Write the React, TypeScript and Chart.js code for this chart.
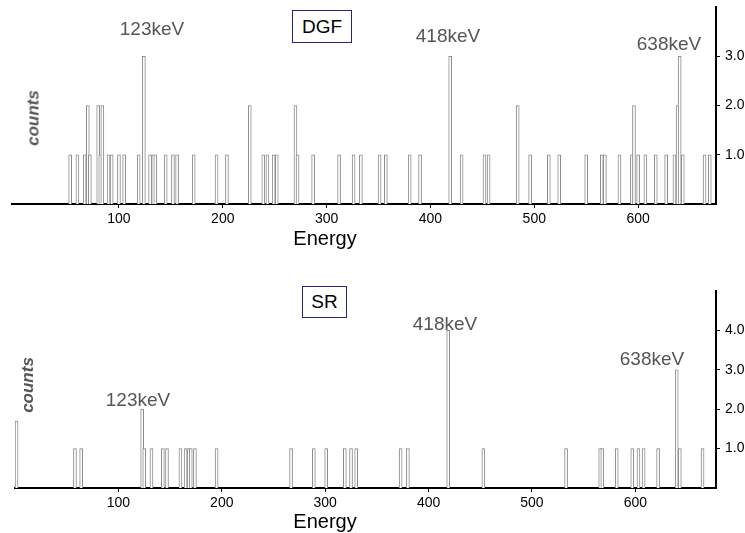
import React, { useEffect, useRef } from 'react';
import { Chart, registerables } from 'chart.js';

Chart.register(...registerables);
Chart.defaults.font.family = '"Liberation Sans", Arial, sans-serif';

// ---- DATA ----
const dgfEnergy = [53, 60, 67, 70, 72, 80, 82, 84, 90, 93, 100, 105, 119, 124, 130, 133, 135, 145, 152, 156, 172, 194, 204, 226, 239, 243, 249, 252, 270, 272, 287, 312, 326, 333, 351, 357, 380, 390, 419, 430, 452, 456, 484, 496, 514, 524, 550, 565, 568, 582, 594, 596, 600, 607, 617, 627, 635, 638, 640, 643, 664, 669];
const dgfCounts = [1, 1, 1, 2, 1, 2, 1, 2, 1, 1, 1, 1, 1, 3, 1, 1, 1, 1, 1, 1, 1, 1, 1, 2, 1, 1, 1, 1, 2, 1, 1, 1, 1, 1, 1, 1, 1, 1, 3, 1, 1, 1, 2, 1, 1, 1, 1, 1, 1, 1, 1, 2, 1, 1, 1, 1, 1, 2, 3, 1, 1, 1];

const srEnergy = [1.5, 58, 64, 123, 125, 132, 143, 147, 160, 165, 168, 170, 174, 195, 267, 289, 301, 319, 325, 330, 373, 380, 419, 453, 533, 566, 568, 582, 597, 603, 608, 622, 640, 643, 665];
const srCounts = [1.7, 1, 1, 2, 1, 1, 1, 1, 1, 1, 1, 1, 1, 1, 1, 1, 1, 1, 1, 1, 1, 1, 4, 1, 1, 1, 1, 1, 1, 1, 1, 1, 3, 1, 1];

const energyTicks = [100, 200, 300, 400, 500, 600];
const dgfCountTicks = [1, 2, 3];
const srCountTicks = [1, 2, 3, 4];

type PanelCfg = {
  energy: number[];
  counts: number[];
  countTicks: number[];
  xMin: number;
  xMax: number;
  yMax: number;
  padLeft: number;
  padTop: number;
  xAxisHeight: number;
};

function makeConfig(p: PanelCfg): any {
  return {
    type: 'bar',
    data: {
      datasets: [
        {
          data: p.energy.map((e, i) => ({ x: e, y: p.counts[i] })),
          backgroundColor: '#ffffff',
          borderColor: '#8a8a8a',
          borderWidth: 1,
          barThickness: 3,
          borderSkipped: 'start',
        },
      ],
    },
    options: {
      animation: false,
      responsive: false,
      maintainAspectRatio: false,
      layout: { padding: { left: p.padLeft, top: p.padTop, right: 0, bottom: 0 } },
      plugins: { legend: { display: false }, tooltip: { enabled: false } },
      scales: {
        x: {
          type: 'linear',
          min: p.xMin,
          max: p.xMax,
          offset: false,
          afterBuildTicks: (s: any) => {
            s.ticks = energyTicks.map((v) => ({ value: v }));
          },
          afterFit: (s: any) => {
            s.height = p.xAxisHeight;
            s.paddingLeft = 0;
            s.paddingRight = 0;
          },
          grid: { drawOnChartArea: false, drawTicks: true, tickLength: 4, color: '#000', offset: false },
          border: { display: true, color: '#000', width: 2 },
          ticks: { color: '#000', font: { size: 14 }, padding: 3, maxRotation: 0, autoSkip: false, callback: (v: any) => String(v) },
        },
        y: {
          type: 'linear',
          position: 'right',
          min: 0,
          max: p.yMax,
          afterBuildTicks: (s: any) => {
            s.ticks = p.countTicks.map((v) => ({ value: v }));
          },
          afterFit: (s: any) => {
            s.width = 29;
            s.paddingTop = 0;
            s.paddingBottom = 0;
          },
          grid: { drawOnChartArea: false, drawTicks: true, tickLength: 4, color: '#000' },
          border: { display: true, color: '#000', width: 2 },
          ticks: { color: '#000', font: { size: 14 }, padding: 5, callback: (v: any) => Number(v).toFixed(1) },
        },
      },
    },
  };
}

function Panel({ cfg, top, height }: { cfg: PanelCfg; top: number; height: number }) {
  const ref = useRef<HTMLCanvasElement | null>(null);
  useEffect(() => {
    if (!ref.current) return;
    const chart = new Chart(ref.current, makeConfig(cfg));
    return () => chart.destroy();
  }, []);
  return (
    <canvas
      ref={ref}
      width={745}
      height={height}
      style={{ position: 'absolute', left: 0, top, width: 745, height }}
    />
  );
}

const FONT = '"Liberation Sans", Arial, sans-serif';

const labelStyle = (x: number, y: number): React.CSSProperties => ({
  position: 'absolute',
  left: x,
  top: y,
  transform: 'translate(-50%, -50%)',
  whiteSpace: 'nowrap',
  fontFamily: FONT,
  fontSize: 19,
  lineHeight: 1,
  color: '#555',
  zIndex: 2,
});

const titleStyle = (x: number, y: number): React.CSSProperties => ({
  ...labelStyle(x, y),
  fontSize: 20,
  color: '#000',
});

const countsStyle = (x: number, y: number): React.CSSProperties => ({
  position: 'absolute',
  left: x,
  top: y,
  transform: 'translate(-50%, -50%) rotate(-90deg)',
  whiteSpace: 'nowrap',
  fontFamily: FONT,
  fontSize: 17,
  fontWeight: 'bold',
  fontStyle: 'italic',
  lineHeight: 1,
  color: '#555',
  zIndex: 2,
});

const boxStyle = (x: number, y: number, w: number, h: number): React.CSSProperties => ({
  position: 'absolute',
  left: x,
  top: y,
  width: w,
  height: h,
  boxSizing: 'border-box',
  border: '1px solid #26267a',
  background: '#fff',
  display: 'flex',
  alignItems: 'center',
  justifyContent: 'center',
  fontFamily: FONT,
  fontSize: 19,
  color: '#000',
  zIndex: 2,
});

const dgfCfg: PanelCfg = {
  energy: dgfEnergy,
  counts: dgfCounts,
  countTicks: dgfCountTicks,
  xMin: -3,
  xMax: 675,
  yMax: 4,
  padLeft: 12,
  padTop: 7,
  xAxisHeight: 62,
};

const srCfg: PanelCfg = {
  energy: srEnergy,
  counts: srCounts,
  countTicks: srCountTicks,
  xMin: 0,
  xMax: 678,
  yMax: 5,
  padLeft: 15,
  padTop: 25,
  xAxisHeight: 45,
};

export default function App() {
  return (
    <div style={{ position: 'absolute', left: 0, top: 0, width: 745, height: 533, background: '#fff', overflow: 'hidden' }}>
      <Panel cfg={dgfCfg} top={0} height={266} />
      <Panel cfg={srCfg} top={266} height={267} />
      <div style={labelStyle(152, 28)}>123keV</div>
      <div style={labelStyle(448, 35)}>418keV</div>
      <div style={labelStyle(669, 43)}>638keV</div>
      <div style={boxStyle(292, 10, 60, 33)}>DGF</div>
      <div style={countsStyle(33, 118)}>counts</div>
      <div style={titleStyle(325, 238)}>Energy</div>

      <div style={labelStyle(138, 399)}>123keV</div>
      <div style={labelStyle(445, 323)}>418keV</div>
      <div style={labelStyle(652, 358)}>638keV</div>
      <div style={boxStyle(302, 286, 45, 32)}>SR</div>
      <div style={countsStyle(27, 385)}>counts</div>
      <div style={titleStyle(325, 521)}>Energy</div>
    </div>
  );
}
